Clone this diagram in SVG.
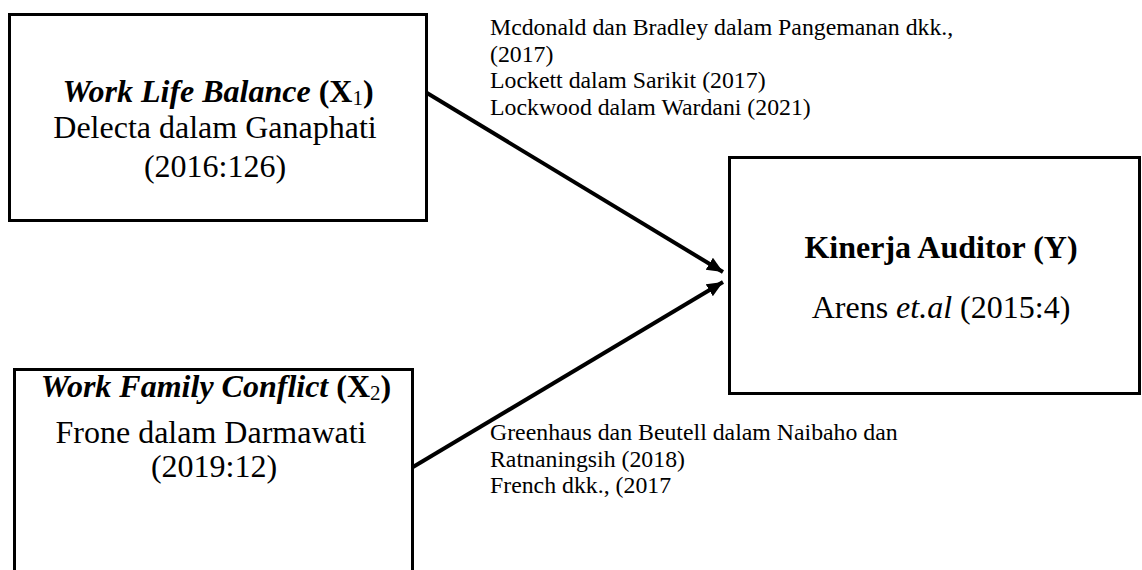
<svg xmlns="http://www.w3.org/2000/svg" width="1142" height="570" viewBox="0 0 1142 570">
<style>
.box{fill:#fff;stroke:#000;stroke-width:3}
.t{font-family:"Liberation Serif","Times New Roman",serif;fill:#000;text-anchor:middle;font-size:32px}
.b{font-weight:bold}
.i{font-style:italic}
.sub{font-size:21px;font-weight:normal}
.note{font-family:"Liberation Serif","Times New Roman",serif;fill:#000;font-size:23.8px}
.conn{stroke:#000;stroke-width:4;fill:none}
</style>
<defs>
<marker id="ah" markerUnits="userSpaceOnUse" markerWidth="18" markerHeight="16" refX="16" refY="7" orient="auto">
<path d="M0,0 L16,7 L0,14 Z" fill="#000"/>
</marker>
</defs>
<rect width="1142" height="570" fill="#fff"/>
<g id="connectors">
<line class="conn" x1="427" y1="93" x2="723" y2="272" marker-end="url(#ah)"/>
<line class="conn" x1="413" y1="467" x2="723" y2="282" marker-end="url(#ah)"/>
</g>
<g id="x1">
<rect class="box" x="9.5" y="14.5" width="417" height="206"/>
<text class="t" x="218" y="102"><tspan class="b i">Work Life Balance</tspan><tspan class="b"> (X</tspan><tspan class="sub" dy="3">1</tspan><tspan class="b" dy="-3">)</tspan></text>
<text class="t" x="215" y="138">Delecta dalam Ganaphati</text>
<text class="t" x="215" y="177">(2016:126)</text>
</g>
<g id="x2">
<rect class="box" x="14.5" y="369.5" width="398" height="220"/>
<text class="t" x="216" y="397"><tspan class="b i">Work Family Conflict</tspan><tspan class="b"> (X</tspan><tspan class="sub" dy="3">2</tspan><tspan class="b" dy="-3">)</tspan></text>
<text class="t" x="211" y="443">Frone dalam Darmawati</text>
<text class="t" x="214" y="477">(2019:12)</text>
</g>
<g id="y">
<rect class="box" x="729.5" y="157.5" width="410" height="236"/>
<text class="t b" x="941" y="258">Kinerja Auditor (Y)</text>
<text class="t" x="941" y="318">Arens <tspan class="i">et.al</tspan> (2015:4)</text>
</g>
<g id="notes">
<text class="note" x="490" y="35">Mcdonald dan Bradley dalam Pangemanan dkk.,</text>
<text class="note" x="490" y="62">(2017)</text>
<text class="note" x="490" y="88">Lockett dalam Sarikit (2017)</text>
<text class="note" x="490" y="115">Lockwood dalam Wardani (2021)</text>
<text class="note" x="490" y="440">Greenhaus dan Beutell dalam Naibaho dan</text>
<text class="note" x="490" y="467">Ratnaningsih (2018)</text>
<text class="note" x="490" y="493">French dkk., (2017</text>
</g>
</svg>
